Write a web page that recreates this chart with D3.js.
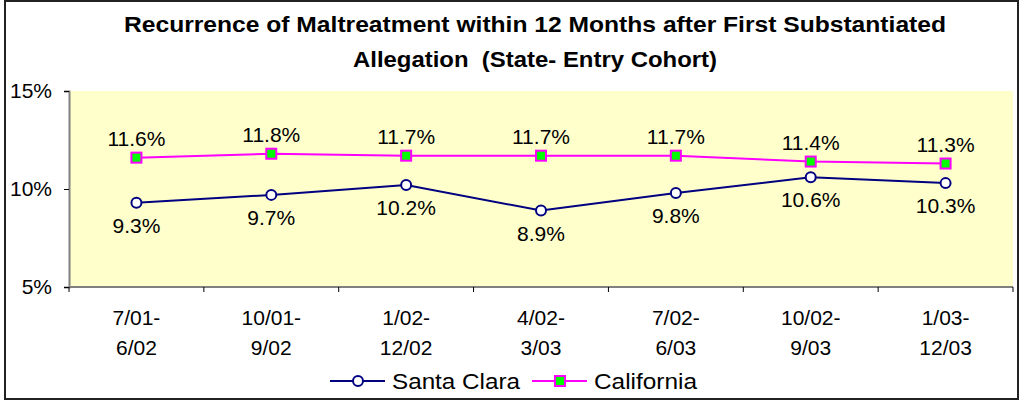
<!DOCTYPE html>
<meta charset="utf-8">
<style>
body { margin: 0; background: #fff; }
text { font-family: Arial, "Liberation Sans", sans-serif; fill: #000; }
</style>
<body>
<svg width="1021" height="402"></svg>
<script src="https://d3js.org/d3.v7.min.js"></script>
<script>

// chart values
var categories = [["7/01-", "6/02"], ["10/01-", "9/02"], ["1/02-", "12/02"], ["4/02-", "3/03"],
                  ["7/02-", "6/03"], ["10/02-", "9/03"], ["1/03-", "12/03"]];
var santaClara = [9.3, 9.7, 10.2, 8.9, 9.8, 10.6, 10.3];
var california = [11.6, 11.8, 11.7, 11.7, 11.7, 11.4, 11.3];
var yTicks = [5, 10, 15];
var titleLines = ["Recurrence of Maltreatment within 12 Months after First Substantiated",
                  "Allegation  (State- Entry Cohort)"];

var svg = d3.select("svg");
var plotL = 69, plotR = 1013, plotT = 91, plotB = 287;

// outer chart border
svg.append("rect")
    .attr("x", 5).attr("y", 1).attr("width", 1013).attr("height", 398)
    .attr("fill", "#fff").attr("stroke", "#222").attr("stroke-width", 2);

svg.selectAll(".title")
    .data(titleLines)
  .enter().append("text")
    .attr("x", 535)
    .attr("y", function(d, i) { return 32 + i * 35; })
    .attr("text-anchor", "middle")
    .attr("textLength", function(d, i) { return i ? 364 : 822; })
    .attr("lengthAdjust", "spacingAndGlyphs")
    .style("font-size", "22px")
    .style("font-weight", "bold")
    .style("white-space", "pre")
    .text(function(d) { return d; });

var x = d3.scaleBand().domain(d3.range(categories.length)).range([plotL, plotR]);
var y = d3.scaleLinear().domain([5, 15]).range([plotB, plotT]);

svg.append("rect")
    .attr("x", plotL).attr("y", plotT)
    .attr("width", plotR - plotL).attr("height", plotB - plotT)
    .attr("fill", "#FFFFCC");

// y axis
var yAxis = svg.append("g")
    .attr("transform", "translate(" + plotL + ",0)")
    .call(d3.axisLeft(y).tickValues(yTicks).tickSize(5).tickPadding(12)
      .tickFormat(function(d) { return d + "%"; }));
yAxis.select(".domain").attr("stroke", "#808080").attr("stroke-width", 2);
yAxis.selectAll(".tick line").attr("stroke", "#000");
yAxis.selectAll("text").style("font-size", "21px").attr("font-family", null);

// x axis: ticks on category boundaries
var xb = svg.append("g").attr("transform", "translate(0," + plotB + ")");
xb.append("line").attr("x1", plotL).attr("x2", plotR).attr("stroke", "#808080").attr("stroke-width", 2);
xb.selectAll(".xt")
    .data(d3.range(categories.length + 1))
  .enter().append("line")
    .attr("x1", function(i) { return plotL + i * x.step(); })
    .attr("x2", function(i) { return plotL + i * x.step(); })
    .attr("y1", 0).attr("y2", 5)
    .attr("stroke", "#000");

var xl = xb.selectAll(".xl")
    .data(categories)
  .enter().append("text")
    .attr("text-anchor", "middle")
    .attr("transform", function(d, i) { return "translate(" + (x(i) + x.bandwidth() / 2) + ",0)"; })
    .style("font-size", "21px");
xl.append("tspan").attr("x", 0).attr("y", 38).text(function(d) { return d[0]; });
xl.append("tspan").attr("x", 0).attr("y", 68).text(function(d) { return d[1]; });

var cx = function(d, i) { return x(i) + x.bandwidth() / 2; };
var line = d3.line().x(cx).y(function(d) { return y(d); });

// California
svg.append("path").datum(california)
    .attr("d", line).attr("fill", "none").attr("stroke", "#FF00FF").attr("stroke-width", 2);
svg.selectAll(".ca")
    .data(california)
  .enter().append("rect")
    .attr("x", function(d, i) { return cx(d, i) - 5; })
    .attr("y", function(d) { return y(d) - 5; })
    .attr("width", 10).attr("height", 10)
    .attr("fill", "#00FF00").attr("stroke", "#FF00FF").attr("stroke-width", 2);
svg.selectAll(".caLabel")
    .data(california)
  .enter().append("text")
    .attr("x", cx)
    .attr("y", function(d) { return y(d) - 12; })
    .attr("text-anchor", "middle")
    .style("font-size", "21px")
    .text(function(d) { return d.toFixed(1) + "%"; });

// Santa Clara
svg.append("path").datum(santaClara)
    .attr("d", line).attr("fill", "none").attr("stroke", "#000080").attr("stroke-width", 2);
svg.selectAll(".sc")
    .data(santaClara)
  .enter().append("circle")
    .attr("cx", cx).attr("cy", function(d) { return y(d); })
    .attr("r", 5)
    .attr("fill", "#fff").attr("stroke", "#000080").attr("stroke-width", 2);
svg.selectAll(".scLabel")
    .data(santaClara)
  .enter().append("text")
    .attr("x", cx)
    .attr("y", function(d) { return y(d) + 30; })
    .attr("text-anchor", "middle")
    .style("font-size", "21px")
    .text(function(d) { return d.toFixed(1) + "%"; });

// legend
var legend = [
  {name: "Santa Clara", x: 330, color: "#000080", shape: "circle", w: 128},
  {name: "California", x: 532, color: "#FF00FF", shape: "rect", w: 103}
];
var lg = svg.selectAll(".lg").data(legend).enter().append("g")
    .attr("transform", function(d) { return "translate(" + d.x + ",381)"; });
lg.append("line").attr("x1", 0).attr("x2", 55)
    .attr("stroke", function(d) { return d.color; }).attr("stroke-width", 2);
lg.filter(function(d) { return d.shape === "circle"; }).append("circle")
    .attr("cx", 28).attr("r", 5).attr("fill", "#fff").attr("stroke", "#000080").attr("stroke-width", 2);
lg.filter(function(d) { return d.shape === "rect"; }).append("rect")
    .attr("x", 23).attr("y", -5).attr("width", 10).attr("height", 10)
    .attr("fill", "#00FF00").attr("stroke", "#FF00FF").attr("stroke-width", 2);
lg.append("text").attr("x", 62).attr("y", 8).style("font-size", "22px")
    .attr("textLength", function(d) { return d.w; })
    .attr("lengthAdjust", "spacingAndGlyphs")
    .text(function(d) { return d.name; });

</script>
</body>
